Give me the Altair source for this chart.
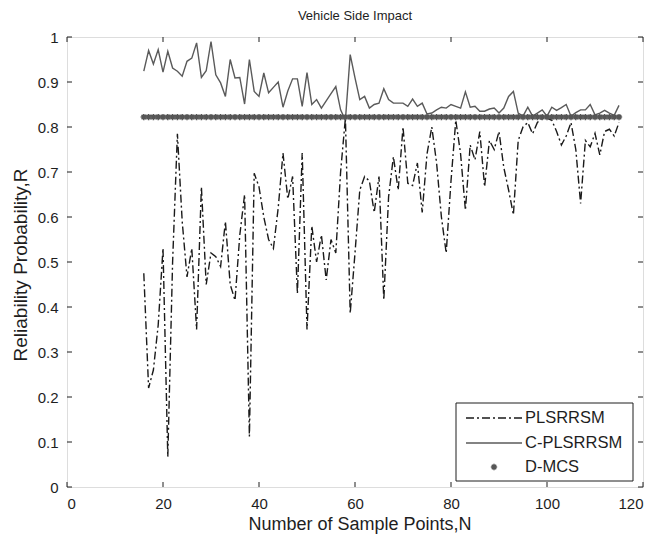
import altair as alt
import pandas as pd

N = list(range(16, 116))

c_pls = [0.924, 0.970, 0.940, 0.972, 0.922, 0.968, 0.931, 0.924, 0.913, 0.946,
         0.953, 0.987, 0.910, 0.925, 0.990, 0.916, 0.898, 0.868, 0.950, 0.909,
         0.910, 0.851, 0.950, 0.879, 0.868, 0.920, 0.876, 0.888, 0.900, 0.844,
         0.880, 0.907, 0.907, 0.846, 0.921, 0.850, 0.861, 0.842, 0.858, 0.874,
         0.890, 0.838, 0.815, 0.961, 0.909, 0.861, 0.868, 0.842, 0.850, 0.853,
         0.885, 0.861, 0.853, 0.853, 0.853, 0.846, 0.862, 0.846, 0.853, 0.829,
         0.831, 0.838, 0.844, 0.842, 0.850, 0.846, 0.842, 0.878, 0.844, 0.846,
         0.835, 0.835, 0.840, 0.842, 0.831, 0.842, 0.868, 0.879, 0.831, 0.824,
         0.844, 0.824, 0.831, 0.838, 0.824, 0.844, 0.837, 0.843, 0.850, 0.824,
         0.832, 0.838, 0.838, 0.850, 0.827, 0.831, 0.837, 0.831, 0.826, 0.848]

pls = [0.475, 0.220, 0.260, 0.360, 0.530, 0.067, 0.500, 0.785, 0.590, 0.467,
       0.530, 0.350, 0.667, 0.450, 0.520, 0.512, 0.490, 0.590, 0.450, 0.415,
       0.560, 0.650, 0.112, 0.697, 0.667, 0.600, 0.550, 0.530, 0.620, 0.742,
       0.640, 0.690, 0.430, 0.742, 0.350, 0.580, 0.500, 0.560, 0.460, 0.550,
       0.520, 0.700, 0.820, 0.386, 0.520, 0.660, 0.690, 0.680, 0.610, 0.690,
       0.416, 0.645, 0.734, 0.660, 0.800, 0.675, 0.670, 0.720, 0.610, 0.740,
       0.800, 0.720, 0.600, 0.520, 0.680, 0.815, 0.740, 0.615, 0.760, 0.727,
       0.790, 0.667, 0.770, 0.750, 0.790, 0.710, 0.660, 0.605, 0.770, 0.800,
       0.810, 0.785, 0.810, 0.820, 0.820, 0.815, 0.790, 0.760, 0.780, 0.810,
       0.750, 0.630, 0.770, 0.756, 0.786, 0.738, 0.790, 0.795, 0.780, 0.810]

dmcs = [0.822] * len(N)

x_ticks = [0, 20, 40, 60, 80, 100, 120]
y_ticks = [0, 0.1, 0.2, 0.3, 0.4, 0.5, 0.6, 0.7, 0.8, 0.9, 1.0]

title_text = "Vehicle Side Impact"
x_title = "Number of Sample Points,N"
y_title = "Reliability Probability,R"
labels = ["PLSRRSM", "C-PLSRRSM", "D-MCS"]

FONT = "Liberation Sans"
W, H = 576, 450
INK = "#1e1e1e"

df = pd.DataFrame({"N": N, "pls": pls, "cpls": c_pls, "dmcs": dmcs})
xt = pd.DataFrame({"v": x_ticks})
yt = pd.DataFrame({"v": y_ticks})
one = pd.DataFrame({"a": [0]})

xs = alt.Scale(domain=[0, 120], nice=False, zero=False)
ys = alt.Scale(domain=[0, 1], nice=False, zero=False)

xaxis = alt.Axis(values=x_ticks, title=None, grid=False, ticks=False, tickSize=0, domain=False,
                 labelPadding=9, labelFont=FONT, labelFontSize=15, labelColor=INK)
yaxis = alt.Axis(values=y_ticks, title=None, grid=False, ticks=False, tickSize=0, domain=False,
                 labelPadding=9, format="~g", labelFont=FONT, labelFontSize=15, labelColor=INK)

base = alt.Chart(df)

c_line = base.mark_line(color="#5a5a5a", strokeWidth=1.4).encode(
    x=alt.X("N:Q", scale=xs, axis=xaxis),
    y=alt.Y("cpls:Q", scale=ys, axis=yaxis),
)
p_line = base.mark_line(color="#1a1a1a", strokeWidth=1.4, strokeDash=[8, 3, 2, 3]).encode(
    x=alt.X("N:Q", scale=xs),
    y=alt.Y("pls:Q", scale=ys),
)
ASTER = "M-1,0L1,0M0,-1L0,1M-0.7,-0.7L0.7,0.7M-0.7,0.7L0.7,-0.7"
d_pts = base.mark_point(shape=ASTER, size=40, color="#555555", strokeWidth=1.5, filled=False,
                        opacity=1).encode(
    x=alt.X("N:Q", scale=xs),
    y=alt.Y("dmcs:Q", scale=ys),
)

tk = dict(color=INK, strokeWidth=1)
xb = alt.Chart(xt).mark_rule(**tk).encode(x=alt.X("v:Q", scale=xs), y=alt.value(H), y2=alt.value(H - 5))
xtp = alt.Chart(xt).mark_rule(**tk).encode(x=alt.X("v:Q", scale=xs), y=alt.value(0), y2=alt.value(5))
yl = alt.Chart(yt).mark_rule(**tk).encode(y=alt.Y("v:Q", scale=ys), x=alt.value(0), x2=alt.value(5))
yr = alt.Chart(yt).mark_rule(**tk).encode(y=alt.Y("v:Q", scale=ys), x=alt.value(W), x2=alt.value(W - 5))

# titles as text
t_main = alt.Chart(one).mark_text(font=FONT, fontSize=13, color=INK, align="center",
                                  baseline="middle").encode(
    x=alt.value(W / 2), y=alt.value(-21), text=alt.value(title_text))
t_x = alt.Chart(one).mark_text(font=FONT, fontSize=18, color=INK, align="center",
                               baseline="middle").encode(
    x=alt.value(293), y=alt.value(488), text=alt.value(x_title))
t_y = alt.Chart(one).mark_text(font=FONT, fontSize=19, color=INK, align="center",
                               baseline="middle", angle=270).encode(
    x=alt.value(-46), y=alt.value(228), text=alt.value(y_title))

# legend
LX0, LX1 = 389, 566
LY0, LY1 = 366, 444
leg_box = alt.Chart(one).mark_rect(fill="white", stroke=INK, strokeWidth=1).encode(
    x=alt.value(LX0), x2=alt.value(LX1), y=alt.value(LY0), y2=alt.value(LY1))
rows = [381, 406, 430]
leg1 = alt.Chart(one).mark_rule(color="#1a1a1a", strokeWidth=1.4, strokeDash=[8, 3, 2, 3]).encode(
    x=alt.value(399), x2=alt.value(455), y=alt.value(rows[0]))
leg2 = alt.Chart(one).mark_rule(color="#5a5a5a", strokeWidth=1.4).encode(
    x=alt.value(399), x2=alt.value(455), y=alt.value(rows[1]))
leg3 = alt.Chart(one).mark_point(shape=ASTER, size=40, color="#555555", strokeWidth=1.5, opacity=1).encode(
    x=alt.value(427), y=alt.value(rows[2]))
leg_txt = [alt.Chart(one).mark_text(align="left", baseline="middle", font=FONT, fontSize=16.5,
                                    color=INK).encode(
    x=alt.value(458), y=alt.value(r), text=alt.value(t)) for r, t in zip(rows, labels)]

chart = alt.layer(c_line, p_line, d_pts, xb, xtp, yl, yr, t_main, t_x, t_y,
                  leg_box, leg1, leg2, leg3, *leg_txt).properties(
    width=W, height=H,
    autosize=alt.AutoSizeParams(type="none"),
    padding={"left": 59, "top": 29, "right": 7, "bottom": 50},
).configure_view(stroke=INK, strokeWidth=1).configure(background="white")

chart.save("out.html", embed_options={"renderer": "svg", "actions": False})
